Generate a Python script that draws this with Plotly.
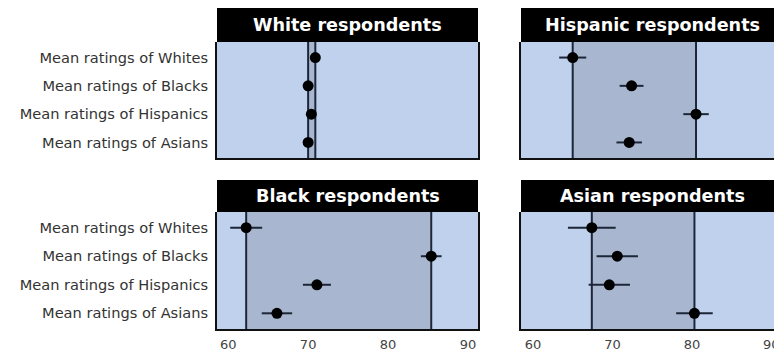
import plotly.graph_objects as go

categories = ["Mean ratings of Whites", "Mean ratings of Blacks",
              "Mean ratings of Hispanics", "Mean ratings of Asians"]
panel_titles = ["White respondents", "Hispanic respondents",
                "Black respondents", "Asian respondents"]

white_means = [70.9, 70.0, 70.4, 70.0]
white_err = [0.4, 0.4, 0.4, 0.4]
hispanic_means = [65.0, 72.4, 80.5, 72.1]
hispanic_err = [1.7, 1.5, 1.6, 1.6]
black_means = [62.25, 85.4, 71.1, 66.1]
black_err = [2.0, 1.3, 1.75, 1.9]
asian_means = [67.4, 70.6, 69.6, 80.3]
asian_err = [3.0, 2.6, 2.6, 2.3]

tick_vals = [60, 70, 80, 90]
tick_text = ["60", "70", "80", "90"]

W, H = 774, 351
BG = "#bfd1ec"
SHADE = "#a8b7cf"
LINE = "#1c2638"
FONT = "DejaVu Sans, Liberation Sans, Arial"

panels = [
    (white_means, white_err, (217, 478), (8, 42, 158), [58.6, 91.25], True),
    (hispanic_means, hispanic_err, (521, 774), (8, 42, 158), [58.5, 90.3], False),
    (black_means, black_err, (217, 478), (180, 212, 329), [58.6, 91.25], True),
    (asian_means, asian_err, (521, 774), (180, 212, 329), [58.5, 90.3], False),
]

fig = go.Figure()
shapes = []
annotations = []
layout = {}
for i, (means, errs, (xl, xr), (ht, pt, pb), rng, show_labels) in enumerate(panels):
    n = "" if i == 0 else str(i + 1)
    xa, ya = "x" + n, "y" + n
    fig.add_trace(go.Scatter(
        x=means, y=categories, mode="markers",
        marker=dict(color="black", size=11),
        error_x=dict(type="data", array=errs, color=LINE, thickness=2, width=0),
        xaxis=xa, yaxis=ya, showlegend=False, cliponaxis=False))
    is_bottom = i >= 2
    layout["xaxis" + n] = dict(
        domain=[xl / W, xr / W], range=rng, anchor=ya,
        tickvals=tick_vals, ticktext=tick_text, showticklabels=is_bottom,
        showgrid=False, zeroline=False, ticks="",
        showline=True, linecolor="#111", linewidth=2, mirror=False,
        tickfont=dict(family=FONT, size=13, color="#444"),
        ticklabelstandoff=2,
    )
    layout["yaxis" + n] = dict(
        domain=[1 - pb / H, 1 - pt / H], anchor=xa,
        categoryorder="array", categoryarray=categories[::-1],
        range=[-0.55, 3.55], autorange=False,
        showticklabels=show_labels, showgrid=False, zeroline=False, ticks="",
        showline=True, linecolor="#111", linewidth=2,
        mirror=(i % 2 == 0),
        tickfont=dict(family=FONT, size=14.6, color="#333"),
        ticklabelstandoff=4,
    )
    lo, hi = min(means), max(means)
    shapes.append(dict(type="rect", xref=xa, yref=ya + " domain", x0=lo, x1=hi,
                       y0=0, y1=1, fillcolor=SHADE, line=dict(width=0), layer="below"))
    for v in (lo, hi):
        shapes.append(dict(type="line", xref=xa, yref=ya + " domain", x0=v, x1=v,
                           y0=0, y1=1, line=dict(color=LINE, width=2), layer="below"))
    shapes.append(dict(type="rect", xref="paper", yref="paper",
                       x0=xl / W, x1=(xr + (9 if i % 2 else 0)) / W,
                       y0=1 - pt / H, y1=1 - ht / H,
                       fillcolor="black", line=dict(width=0)))
    annotations.append(dict(text="<b>" + panel_titles[i] + "</b>",
                            xref="paper", yref="paper",
                            x=((xl + xr + (9 if i % 2 else 0)) / 2) / W,
                            y=1 - (ht + pt) / 2 / H,
                            xanchor="center", yanchor="middle", showarrow=False,
                            font=dict(family=FONT, size=17.6, color="white")))

# the last tick label of the bottom-right panel is cut by the image edge
annotations.append(dict(text=tick_text[-1], xref="x4", yref="paper",
                        x=tick_vals[-1], y=1 - 335 / H,
                        xanchor="center", yanchor="top", showarrow=False,
                        font=dict(family=FONT, size=13, color="#444")))

fig.update_layout(
    width=W, height=H, margin=dict(l=0, r=0, t=0, b=0),
    paper_bgcolor="white", plot_bgcolor=BG,
    shapes=shapes, annotations=annotations, **layout)

fig.write_html("out.html", config={"displayModeBar": False},
               post_script="document.body.style.margin='0';document.body.style.overflow='hidden';")
